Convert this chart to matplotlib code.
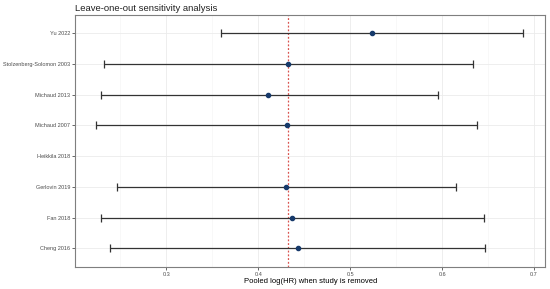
import numpy as np
import matplotlib.pyplot as plt

plt.rcParams["font.family"] = ["Liberation Sans", "DejaVu Sans"]

studies = ["Cheng 2016", "Fan 2018", "Gerlovin 2019", "Heikkila 2018",
           "Michaud 2007", "Michaud 2013", "Stolzenberg-Solomon 2003", "Yu 2022"]
est = [0.443, 0.437, 0.430, np.nan, 0.431, 0.411, 0.432, 0.524]
lower = [0.239, 0.229, 0.246, np.nan, 0.224, 0.229, 0.232, 0.359]
upper = [0.647, 0.646, 0.615, np.nan, 0.638, 0.595, 0.634, 0.688]
pooled = 0.432

est = np.array(est)
lower = np.array(lower)
upper = np.array(upper)
y = np.arange(len(studies))

fig = plt.figure(figsize=(5.5, 2.89), dpi=100)
ax = fig.add_axes([0.137, 0.077, 0.854, 0.872])

ax.errorbar(est, y, xerr=[est - lower, upper - est], fmt="none",
            ecolor="#333333", elinewidth=0.9, capsize=3, capthick=0.9, zorder=2)
ax.scatter(est, y, s=9, color="#173a6b", zorder=3)
ax.axvline(pooled, color="#d9534f", linestyle=(0, (1.5, 1.5)), linewidth=0.9, zorder=1)

ax.set_xlim(0.201, 0.712)
ax.set_ylim(-0.6, len(studies) - 0.4)
ax.set_xticks([0.3, 0.4, 0.5, 0.6, 0.7])
ax.set_xticklabels(["0.3", "0.4", "0.5", "0.6", "0.7"])
ax.set_xticks([0.25, 0.35, 0.45, 0.55, 0.65], minor=True)
ax.set_yticks(y)
ax.set_yticklabels(studies)

ax.grid(True, which="major", color="#ebebeb", linewidth=0.6)
ax.grid(True, which="minor", axis="x", color="#f4f4f4", linewidth=0.4)
ax.set_axisbelow(True)
for s in ax.spines.values():
    s.set_color("#7f7f7f")
    s.set_linewidth(0.8)
ax.tick_params(axis="both", which="major", labelsize=4.0, colors="#4d4d4d",
               length=2, width=0.6, pad=1.5)
ax.tick_params(axis="both", which="minor", length=0)

ax.set_xlabel("Pooled log(HR) when study is removed", fontsize=5.5, labelpad=1)
ax.set_title("Leave-one-out sensitivity analysis", fontsize=6.8, loc="left", pad=3,
             color="#222222")

fig.savefig("out.png", dpi=100)
